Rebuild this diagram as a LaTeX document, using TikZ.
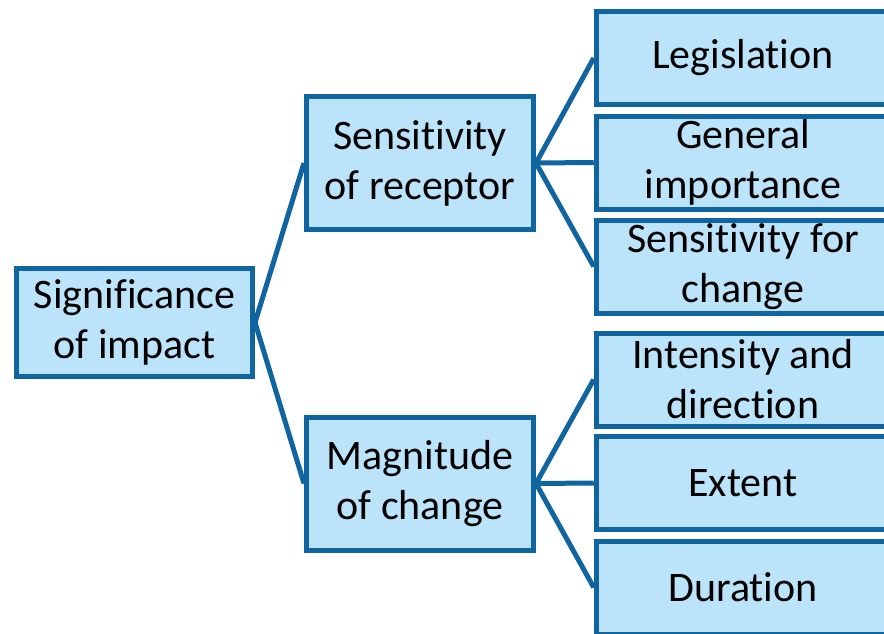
\documentclass[tikz,border=0pt]{standalone}
\usepackage{fontspec}
\setmainfont[RawFeature=-liga]{Carlito}
\definecolor{boxfill}{RGB}{187,228,251}
\definecolor{boxline}{RGB}{16,101,160}
\begin{document}
\begin{tikzpicture}[x=1pt,y=-1pt,
  box/.style={draw=boxline,fill=boxfill,line width=5pt,rectangle,inner sep=0pt,
    align=center,font=\fontsize{42}{50}\selectfont,text=black},
  leaf/.style={box,minimum width=293.5pt,minimum height=93pt},
  mid/.style={box,minimum width=227pt,minimum height=133pt},
  conn/.style={draw=boxline,line width=5pt}]
\useasboundingbox (0,0) rectangle (884,634);
\clip (0,0) rectangle (884,634);
\node[box,minimum width=236pt,minimum height=108pt] (root) at (134.5,322.5) {Significance\\of impact};
\node[mid] (sens) at (420,163) {Sensitivity\\of receptor};
\node[mid] (mag) at (420,483.5) {Magnitude\\of change};
\node[leaf] (leg) at (743,58) {Legislation};
\node[leaf] (gen) at (743,162.5) {General\\importance};
\node[leaf] (sfc) at (743,266.5) {Sensitivity for\\change};
\node[leaf] (int) at (743,379.5) {Intensity and\\direction};
\node[leaf] (ext) at (743,483) {Extent};
\node[leaf] (dur) at (743,587.5) {Duration};
\draw[conn] (root.east) -- (sens.west);
\draw[conn] (root.east) -- (mag.west);
\draw[conn] (sens.east) -- (leg.west);
\draw[conn] (sens.east) -- (gen.west);
\draw[conn] (sens.east) -- (sfc.west);
\draw[conn] (mag.east) -- (int.west);
\draw[conn] (mag.east) -- (ext.west);
\draw[conn] (mag.east) -- (dur.west);
\end{tikzpicture}
\end{document}
